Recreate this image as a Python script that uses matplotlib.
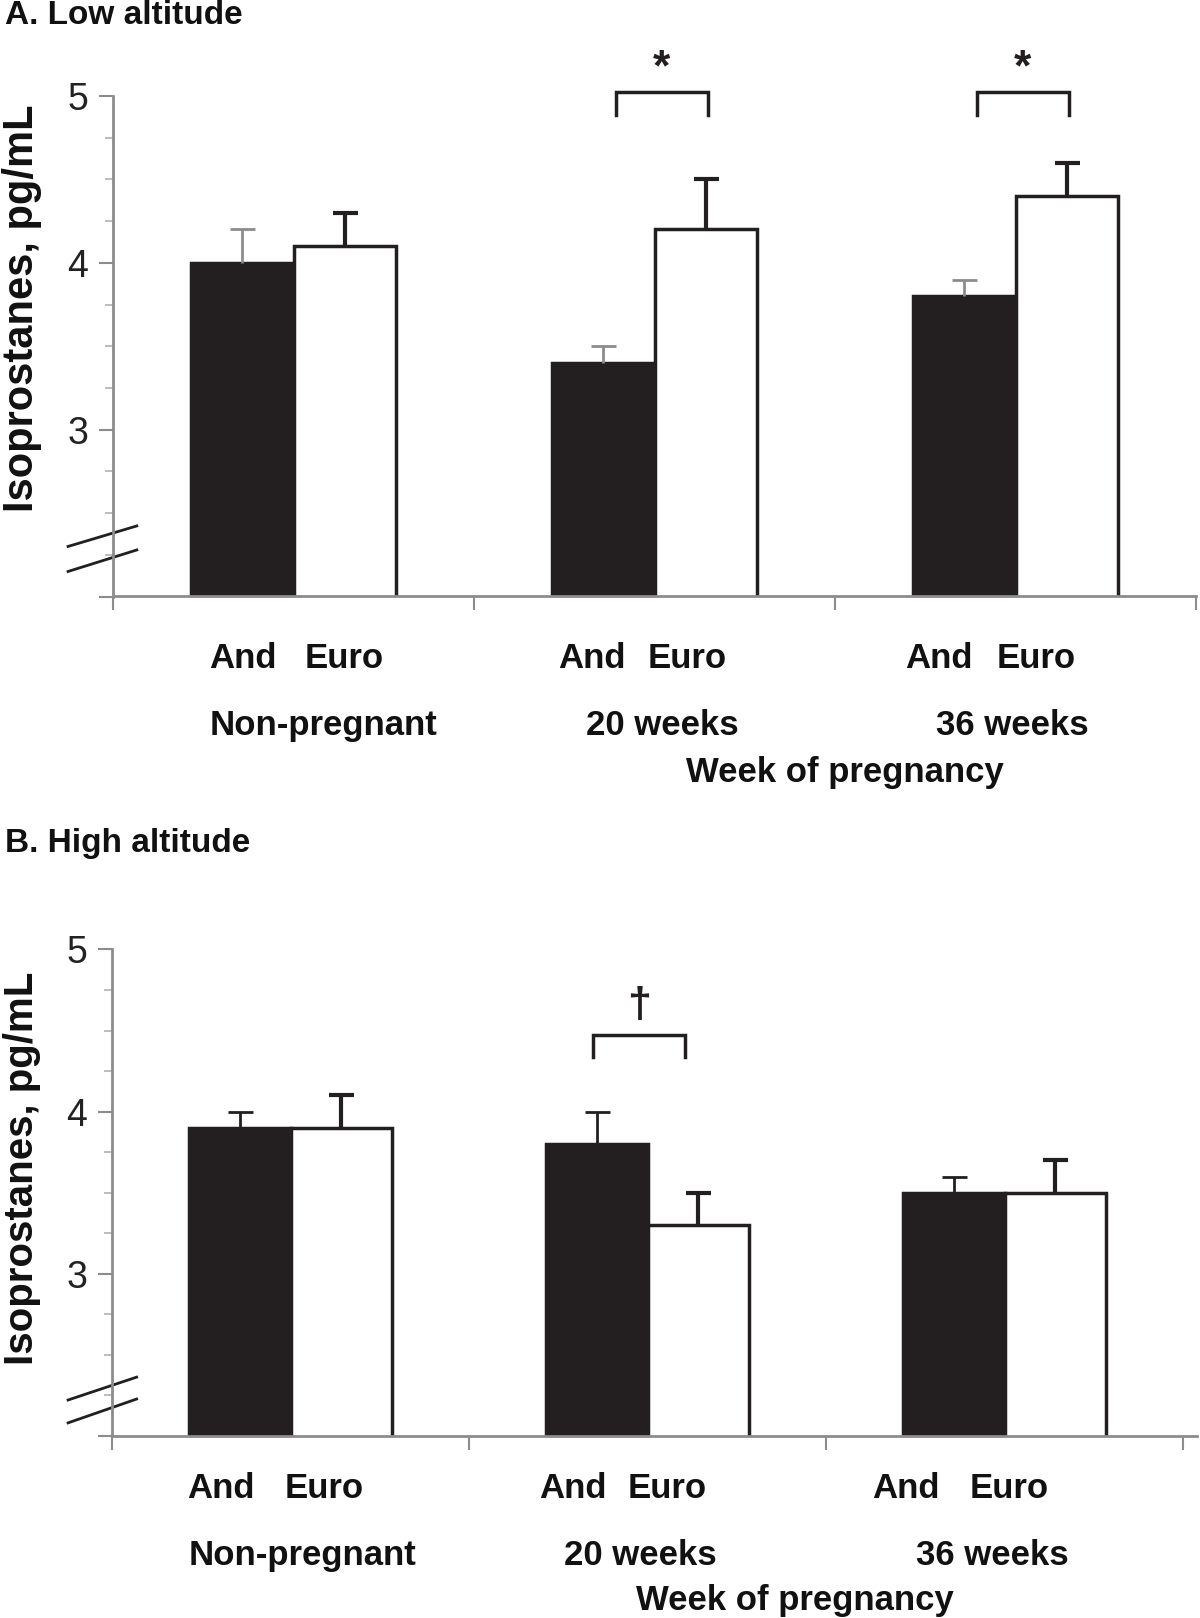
import matplotlib
matplotlib.use('Agg')
import matplotlib.pyplot as plt
import numpy as np

groups = ['Non-pregnant', '20 weeks', '36 weeks']
series = ['And', 'Euro']

low_and = [4.0, 3.4, 3.8]
low_and_se = [0.2, 0.1, 0.1]
low_euro = [4.1, 4.2, 4.4]
low_euro_se = [0.2, 0.3, 0.2]

high_and = [3.9, 3.8, 3.5]
high_and_se = [0.1, 0.2, 0.1]
high_euro = [3.9, 3.3, 3.5]
high_euro_se = [0.2, 0.2, 0.2]

low_sig = [(1, '*'), (2, '*')]
high_sig = [(1, '\u2020')]

DARK = '#231f20'
GREY = '#8c8c8c'
plt.rcParams['font.family'] = ['Liberation Sans', 'DejaVu Sans']

fig = plt.figure(figsize=(12, 16.18), dpi=100)
axA = fig.add_axes([113 / 1200, 1 - 596.5 / 1618, 1083 / 1200, 500.5 / 1618])
axB = fig.add_axes([112 / 1200, 1 - 1436 / 1618, 1071 / 1200, 486.5 / 1618])

# label layout (x in data units, y in axes fraction)
layoutA = dict(and_x=[-0.140, 0.827, 1.788], euro_x=[0.140, 1.090, 2.057],
               grp_x=[0.082, 1.021, 1.990], week_x=1.528, rows=(-0.123, -0.257, -0.351),
               br=(4.886, 5.024, -0.107, 0.148), mark=(5.16, 32), xend=2.5)
layoutB = dict(and_x=[-0.194, 0.791, 1.724], euro_x=[0.095, 1.055, 2.014],
               grp_x=[0.035, 0.979, 1.965], week_x=1.413, rows=(-0.108, -0.246, -0.338),
               br=(4.336, 4.472, -0.154, 0.106), mark=(4.65, 31), xend=2.54)


def panel(ax, a, ase, e, ese, and_err_col, sig, L):
    x = np.arange(len(groups))
    w = 0.285
    ax.bar(x - w / 2, a, w, color=DARK, edgecolor=DARK, linewidth=2.5, zorder=2)
    ax.bar(x + w / 2, e, w, color='white', edgecolor=DARK, linewidth=2.5, zorder=2)
    for xs, v, s, c, lw in [(x - w / 2, a, ase, and_err_col, 2.0), (x + w / 2, e, ese, DARK, 3.0)]:
        eb = ax.errorbar(xs, v, yerr=[np.zeros(len(s)), s], fmt='none', ecolor=c,
                         elinewidth=lw, capsize=9, capthick=lw, zorder=3)
        eb[1][0].set_visible(False)
    ax.set_xlim(-0.5, 2.5)
    ax.set_ylim(2, 5)
    ax.set_yticks([2, 3, 4, 5])
    ax.set_yticklabels(['', '3', '4', '5'])
    ax.set_yticks(np.arange(2, 5, 0.25), minor=True)
    ax.set_xticks([-0.5, 0.5, 1.5, 2.5])
    ax.set_xticklabels([])
    ax.tick_params(axis='y', which='major', length=10, width=1.5, color=GREY,
                   labelsize=27, labelcolor='#222222', pad=8)
    ax.tick_params(axis='y', which='minor', length=6, width=1.2, color='#b0b0b0')
    ax.tick_params(axis='x', length=10, width=1.5, color=GREY)
    for s in ['top', 'right']:
        ax.spines[s].set_visible(False)
    for s in ['left', 'bottom']:
        ax.spines[s].set_color(GREY)
        ax.spines[s].set_linewidth(2)
    ax.spines['bottom'].set_bounds(-0.5, L['xend'])
    tr = ax.get_xaxis_transform()
    kw = dict(transform=tr, ha='center', va='center', fontsize=25, fontweight='bold', color='#111111')
    for i in x:
        ax.text(L['and_x'][i], L['rows'][0], series[0], **kw)
        ax.text(L['euro_x'][i], L['rows'][0], series[1], **kw)
        ax.text(L['grp_x'][i], L['rows'][1], groups[i], **kw)
    ax.text(L['week_x'], L['rows'][2], 'Week of pregnancy', **kw)
    y_lo, y_hi, dx0, dx1 = L['br']
    for g, m in sig:
        x0, x1 = g + dx0, g + dx1
        ax.plot([x0, x0, x1, x1], [y_lo, y_hi, y_hi, y_lo], color=DARK,
                lw=2.5, clip_on=False, solid_joinstyle='miter')
        ax.text((x0 + x1) / 2, L['mark'][0], m, ha='center', va='center', fontsize=L['mark'][1],
                fontweight='bold', color=DARK, clip_on=False)


panel(axA, low_and, low_and_se, low_euro, low_euro_se, GREY, low_sig, layoutA)
panel(axB, high_and, high_and_se, high_euro, high_euro_se, DARK, high_sig, layoutB)

# axis break marks
for ax, ys, xs in [(axA, [(0.100, 0.141), (0.050, 0.093)], [-0.0415, 0.022]),
                   (axB, [(0.074, 0.121), (0.027, 0.076)], [-0.041, 0.023])]:
    for y0, y1 in ys:
        ax.plot(xs, [y0, y1], transform=ax.transAxes, color=DARK, lw=2, clip_on=False)

fig.text(5 / 1200, 1 - 16 / 1618, 'A. Low altitude', ha='left', va='center', fontsize=24,
         fontweight='bold', color='#111111')
fig.text(5 / 1200, 1 - 843 / 1618, 'B. High altitude', ha='left', va='center', fontsize=24,
         fontweight='bold', color='#111111')
fig.text(22 / 1200, 1 - 308 / 1618, 'Isoprostanes, pg/mL', rotation=90, ha='center', va='center',
         fontsize=30, fontweight='bold', color='#111111')
fig.text(22 / 1200, 1 - 1168 / 1618, 'Isoprostanes, pg/mL', rotation=90, ha='center', va='center',
         fontsize=29, fontweight='bold', color='#111111')

fig.savefig('out.png', dpi=100)
